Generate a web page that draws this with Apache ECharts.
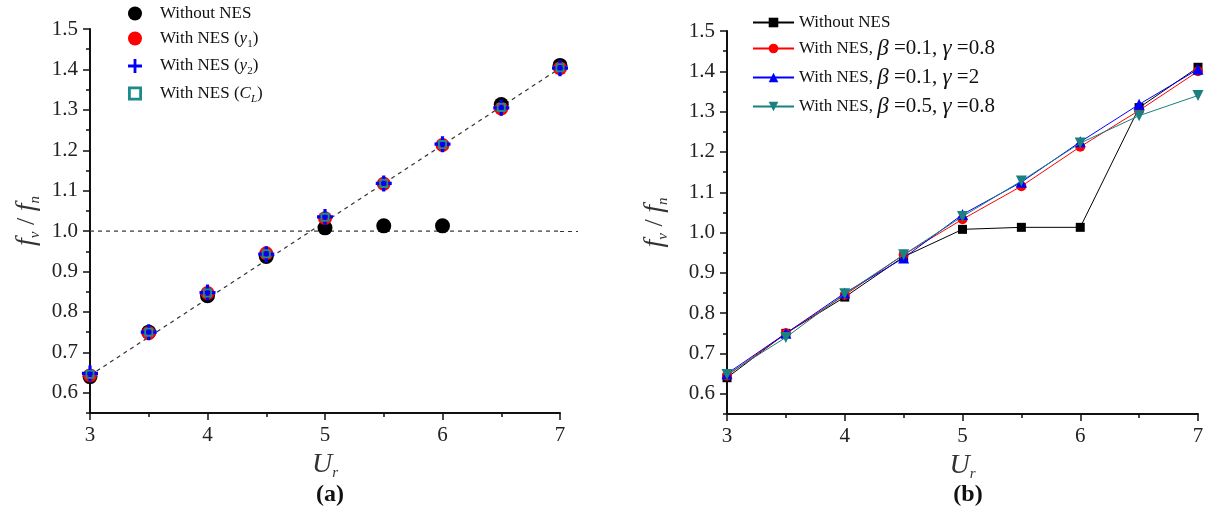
<!DOCTYPE html>
<html>
<head>
<meta charset="utf-8">
<script src="https://cdn.jsdelivr.net/npm/echarts@6/dist/echarts.min.js"></script>
<style>
html,body{margin:0;padding:0;background:#fff;}
#chart{width:1210px;height:509px;}
</style>
</head>
<body>
<div id="chart"></div>
<script>
// reduced velocity
var ur = [3, 3.5, 4, 4.5, 5, 5.5, 6, 6.5, 7];

// (a) frequency ratio from different signals
var aWithout = [0.640, 0.750, 0.840, 0.937, 1.008, 1.013, 1.013, 1.313, 1.410];
var aY1 = [0.643, 0.748, 0.847, 0.945, 1.032, 1.117, 1.213, 1.303, 1.403];
var aY2 = [0.648, 0.750, 0.848, 0.943, 1.035, 1.118, 1.215, 1.305, 1.403];
var aCL = [0.646, 0.750, 0.847, 0.944, 1.034, 1.118, 1.214, 1.306, 1.404];
var aFitLine = [[3, 0.643], [7, 1.403]];
var aUnityLine = [[3, 1.0], [7, 1.0]];

// (b) frequency ratio for different NES parameters
var bWithout = [0.640, 0.750, 0.840, 0.940, 1.008, 1.013, 1.013, 1.310, 1.410];
var bB01G08 = [0.645, 0.750, 0.845, 0.945, 1.033, 1.115, 1.213, 1.303, 1.400];
var bB01G2 = [0.650, 0.750, 0.850, 0.937, 1.045, 1.125, 1.225, 1.318, 1.405];
var bB05G08 = [0.648, 0.740, 0.848, 0.945, 1.040, 1.128, 1.222, 1.290, 1.340];

var yMajor = [0.6, 0.7, 0.8, 0.9, 1.0, 1.1, 1.2, 1.3, 1.4, 1.5];
var xMajor = [3, 4, 5, 6, 7];

function pairs(ys){
	return ur.map(function(x, i){ return [x, ys[i]]; });
}

var serif = 'Liberation Serif';
var legendText = {
	'a0': '{n|Without NES}',
	'a1': '{n|With NES (}{i|y}{s|1}{n|)}',
	'a2': '{n|With NES (}{i|y}{s|2}{n|)}',
	'a3': '{n|With NES (}{i|C}{si|L}{n|)}',
	'b0': '{n|Without NES}',
	'b1': '{n|With NES, }{g|β}{m| =0.1, }{g|γ}{m| =0.8}',
	'b2': '{n|With NES, }{g|β}{m| =0.1, }{g|γ}{m| =2}',
	'b3': '{n|With NES, }{g|β}{m| =0.5, }{g|γ}{m| =0.8}'
};
var legendRich = {
	n: {fontFamily: serif, fontSize: 17, color: '#111', lineHeight: 22},
	m: {fontFamily: serif, fontSize: 21, color: '#111', lineHeight: 22},
	i: {fontFamily: serif, fontSize: 17, fontStyle: 'italic', color: '#111', lineHeight: 22},
	g: {fontFamily: serif, fontSize: 23, fontStyle: 'italic', color: '#111', lineHeight: 22},
	s: {fontFamily: serif, fontSize: 11, color: '#111', lineHeight: 12, verticalAlign: 'bottom'},
	si: {fontFamily: serif, fontSize: 11, fontStyle: 'italic', color: '#111', lineHeight: 12, verticalAlign: 'bottom'}
};
var nameRich = {
	i: {fontFamily: serif, fontSize: 28, fontStyle: 'italic', color: '#333', lineHeight: 32},
	n: {fontFamily: serif, fontSize: 26, color: '#333', lineHeight: 32},
	s: {fontFamily: serif, fontSize: 15, fontStyle: 'italic', color: '#333', lineHeight: 15, verticalAlign: 'bottom'}
};

var crossPath = 'path://M-1.6,-8h3.2v6.4h6.4v3.2h-6.4v6.4h-3.2v-6.4h-6.4v-3.2h6.4z';
var ringPath = 'path://M0,0h10v10h-10z M2,2v6h6v-6z';

function axesFor(g, yGap){
	var lineStyle = {color: '#111', width: 2};
	return {
		x: [{
			gridIndex: g, type: 'value', min: 3, max: 7, interval: 0.5,
			axisLine: {show: true, lineStyle: lineStyle},
			axisTick: {show: true, length: 4, lineStyle: {color: '#111', width: 1.5}},
			axisLabel: {show: false}, splitLine: {show: false}
		}, {
			gridIndex: g, type: 'value', min: 3, max: 7, position: 'bottom',
			axisLine: {show: false},
			axisTick: {show: true, length: 7, customValues: xMajor, lineStyle: {color: '#111', width: 1.5}},
			axisLabel: {show: true, customValues: xMajor, fontFamily: serif, fontSize: 21, color: '#222', margin: 12},
			splitLine: {show: false},
			name: '{i|U}{s|r}', nameLocation: 'middle', nameGap: 36,
			nameTextStyle: {rich: nameRich}
		}],
		y: [{
			gridIndex: g, type: 'value', min: 0.55, max: 1.5, interval: 0.05, position: 'left',
			axisLine: {show: true, lineStyle: lineStyle},
			axisTick: {show: true, length: 4, lineStyle: {color: '#111', width: 1.5}},
			axisLabel: {show: false}, splitLine: {show: false}
		}, {
			gridIndex: g, type: 'value', min: 0.55, max: 1.5, position: 'left',
			axisLine: {show: false},
			axisTick: {show: true, length: 7, customValues: yMajor, lineStyle: {color: '#111', width: 1.5}},
			axisLabel: {show: true, customValues: yMajor, fontFamily: serif, fontSize: 21, color: '#222', margin: 12,
				formatter: function(v){ return v.toFixed(1); }},
			splitLine: {show: false},
			name: '{i|f}{s|v}{n| / }{i|f}{s|n}', nameLocation: 'middle', nameGap: yGap, nameRotate: 90,
			nameTextStyle: {rich: nameRich}
		}]
	};
}

var axA = axesFor(0, 47);
var axB = axesFor(1, 56);

var chart = echarts.init(document.getElementById('chart'));
chart.setOption({
	animation: false,
	backgroundColor: '#fff',
	grid: [
		{left: 90, top: 29, width: 470, height: 384},
		{left: 727, top: 31, width: 471, height: 383}
	],
	title: [
		{text: '(a)', left: 325, top: 478, textAlign: 'center',
			textStyle: {fontFamily: serif, fontSize: 24, fontWeight: 'bold', color: '#111'}},
		{text: '(b)', left: 963, top: 478, textAlign: 'center',
			textStyle: {fontFamily: serif, fontSize: 24, fontWeight: 'bold', color: '#111'}}
	],
	legend: [{
		data: [
			{name: 'a0'}, {name: 'a1'}, {name: 'a2'},
			{name: 'a3', icon: ringPath, itemStyle: {color: '#1a8c8c'}}
		],
		orient: 'vertical', left: 128, top: 5, padding: 0, itemWidth: 14, itemHeight: 14, itemGap: 8,
		formatter: function(n){ return legendText[n]; },
		textStyle: {rich: legendRich, padding: [0, 0, 0, 13]}
	}, {
		data: ['b0', 'b1', 'b2', 'b3'],
		orient: 'vertical', left: 752, top: 14, padding: 0, itemWidth: 41, itemHeight: 12, itemGap: 6,
		formatter: function(n){ return legendText[n]; },
		textStyle: {rich: legendRich}
	}],
	xAxis: axA.x.concat(axB.x),
	yAxis: axA.y.concat(axB.y),
	series: [
		{type: 'line', xAxisIndex: 0, yAxisIndex: 0, data: aFitLine, symbol: 'none', silent: true,
			lineStyle: {color: '#333', width: 1.2, type: [4, 4]}, z: 1},
		{type: 'line', xAxisIndex: 0, yAxisIndex: 0, data: aUnityLine, symbol: 'none', silent: true,
			lineStyle: {color: '#333', width: 1.2, type: [4, 4]}, z: 1,
			markLine: {silent: true, symbol: 'none', label: {show: false},
				lineStyle: {color: '#333', width: 1.2, type: [4, 4]},
				data: [[{coord: [7, 1.0]}, {coord: [7, 1.0], x: 578}]]}},
		{name: 'a0', type: 'scatter', xAxisIndex: 0, yAxisIndex: 0, data: pairs(aWithout),
			symbol: 'circle', symbolSize: 15, itemStyle: {color: '#000', opacity: 1}, clip: false, z: 2},
		{name: 'a1', type: 'scatter', xAxisIndex: 0, yAxisIndex: 0, data: pairs(aY1),
			symbol: 'circle', symbolSize: 14, itemStyle: {color: '#ff0000', opacity: 1}, clip: false, z: 3},
		{name: 'a2', type: 'scatter', xAxisIndex: 0, yAxisIndex: 0, data: pairs(aY2),
			symbol: crossPath, symbolSize: 16, itemStyle: {color: '#0000ff', opacity: 1}, clip: false, z: 4},
		{name: 'a3', type: 'scatter', xAxisIndex: 0, yAxisIndex: 0, data: pairs(aCL),
			symbol: ringPath, symbolSize: 9, itemStyle: {color: '#1a8c8c', opacity: 1},
			clip: false, z: 5},

		{name: 'b0', type: 'line', xAxisIndex: 2, yAxisIndex: 2, data: pairs(bWithout),
			symbol: 'rect', symbolSize: 9, itemStyle: {color: '#000'}, lineStyle: {color: '#000', width: 1},
			clip: false, z: 2},
		{name: 'b1', type: 'line', xAxisIndex: 2, yAxisIndex: 2, data: pairs(bB01G08),
			symbol: 'circle', symbolSize: 10, itemStyle: {color: '#ff0000'}, lineStyle: {color: '#ff0000', width: 1},
			clip: false, z: 3},
		{name: 'b2', type: 'line', xAxisIndex: 2, yAxisIndex: 2, data: pairs(bB01G2),
			symbol: 'triangle', symbolSize: 11, itemStyle: {color: '#0000ff'}, lineStyle: {color: '#0000ff', width: 1},
			clip: false, z: 4},
		{name: 'b3', type: 'line', xAxisIndex: 2, yAxisIndex: 2, data: pairs(bB05G08),
			symbol: 'triangle', symbolRotate: 180, symbolSize: 11, itemStyle: {color: '#1a8080'},
			lineStyle: {color: '#1a8080', width: 1}, clip: false, z: 5}
	]
});
</script>
</body>
</html>
